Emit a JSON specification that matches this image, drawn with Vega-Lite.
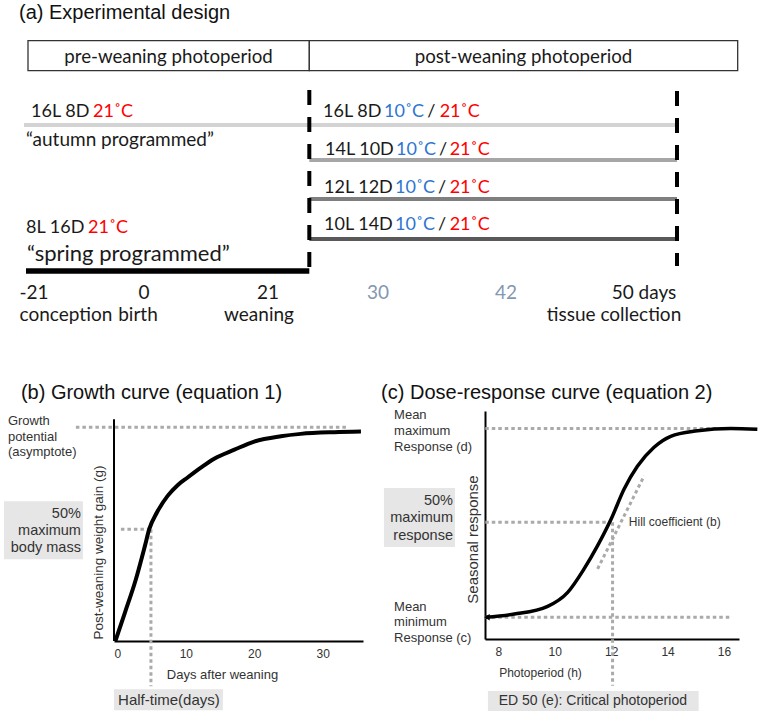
{
"$schema": "https://vega.github.io/schema/vega-lite/v6.json",
"padding": {"left": 3, "top": 3, "right": 2, "bottom": 2},
"bounds": "flush",
"spacing": 71,
"config": {
 "view": {"stroke": null},
 "axis": {"grid": false, "ticks": false, "domainColor": "#000000", "domainWidth": 2, "labelFont": "Liberation Sans", "titleFont": "Liberation Sans", "labelColor": "#333333", "titleColor": "#333333", "titleFontWeight": "normal"},
 "text": {"font": "Liberation Sans"}
},
"datasets": {
 "a_sections": [
  {"section": "pre-weaning photoperiod", "x": -13.76, "x2": 31.25, "y": 0.2, "y2": 10.2, "cx": 8.72, "cy": 5.6},
  {"section": "post-weaning photoperiod", "x": 31.25, "x2": 99.79, "y": 0.2, "y2": 10.2, "cx": 65.52, "cy": 5.6}
 ],
 "a_lines": [
  {"schedule": "16L 8D", "phase": "pre-weaning", "x": -14.4, "x2": 31.25, "y": 28.33},
  {"schedule": "16L 8D", "phase": "post-weaning", "x": 31.25, "x2": 90.08, "y": 28.33},
  {"schedule": "14L 10D", "phase": "post-weaning", "x": 31.25, "x2": 90.08, "y": 40},
  {"schedule": "12L 12D", "phase": "post-weaning", "x": 31.25, "x2": 90.08, "y": 53},
  {"schedule": "10L 14D", "phase": "post-weaning", "x": 31.25, "x2": 90.08, "y": 66.33},
  {"schedule": "8L 16D", "phase": "pre-weaning", "x": -14.08, "x2": 31.25, "y": 77}
 ],
 "a_bounds": [
  {"event": "weaning", "x": 31.25, "y": 16.67, "y2": 78},
  {"event": "tissue collection", "x": 90.08, "y": 17, "y2": 75.33}
 ],
 "a_labels": [
  {"role": "title", "text": "(a) Experimental design", "tone": "plain", "x": -15.2, "y": -9},
  {"role": "schedule", "text": "16L 8D", "tone": "plain", "x": -13.28, "y": 23.9},
  {"role": "schedule", "text": "21˚C", "tone": "warm", "x": -3.36, "y": 23.9},
  {"role": "schedule", "text": "8L 16D", "tone": "plain", "x": -14.08, "y": 62.7},
  {"role": "schedule", "text": "21˚C", "tone": "warm", "x": -4.16, "y": 62.7},
  {"role": "schedule", "text": "16L 8D", "tone": "plain", "x": 33.44, "y": 23.9},
  {"role": "schedule", "text": "10˚C", "tone": "cold", "x": 43.2, "y": 23.9},
  {"role": "schedule", "text": "/", "tone": "plain", "x": 50.1, "y": 23.9},
  {"role": "schedule", "text": "21˚C", "tone": "warm", "x": 52.1, "y": 23.9},
  {"role": "schedule", "text": "14L 10D", "tone": "plain", "x": 33.76, "y": 36.7},
  {"role": "schedule", "text": "10˚C", "tone": "cold", "x": 45.12, "y": 36.7},
  {"role": "schedule", "text": "/", "tone": "plain", "x": 52.0, "y": 36.7},
  {"role": "schedule", "text": "21˚C", "tone": "warm", "x": 53.7, "y": 36.7},
  {"role": "schedule", "text": "12L 12D", "tone": "plain", "x": 33.6, "y": 49.4},
  {"role": "schedule", "text": "10˚C", "tone": "cold", "x": 44.96, "y": 49.4},
  {"role": "schedule", "text": "/", "tone": "plain", "x": 51.85, "y": 49.4},
  {"role": "schedule", "text": "21˚C", "tone": "warm", "x": 53.7, "y": 49.4},
  {"role": "schedule", "text": "10L 14D", "tone": "plain", "x": 33.6, "y": 61.8},
  {"role": "schedule", "text": "10˚C", "tone": "cold", "x": 44.96, "y": 61.8},
  {"role": "schedule", "text": "/", "tone": "plain", "x": 51.85, "y": 61.8},
  {"role": "schedule", "text": "21˚C", "tone": "warm", "x": 53.7, "y": 61.8},
  {"role": "autumn", "text": "“autumn programmed”", "tone": "plain", "x": -14.08, "y": 33.3},
  {"role": "spring", "text": "“spring programmed”", "tone": "plain", "x": -13.92, "y": 71.4},
  {"role": "day", "text": "-21", "tone": "plain", "x": -12.8, "y": 84.3},
  {"role": "day", "text": "0", "tone": "plain", "x": 4.8, "y": 84.3},
  {"role": "day", "text": "21", "tone": "plain", "x": 24.64, "y": 84.3},
  {"role": "day", "text": "30", "tone": "muted", "x": 42.24, "y": 84.3},
  {"role": "day", "text": "42", "tone": "muted", "x": 62.72, "y": 84.3},
  {"role": "day", "text": "50  days", "tone": "plain", "x": 84.8, "y": 84.3},
  {"role": "event", "text": "conception", "tone": "plain", "x": -7.68, "y": 91.6},
  {"role": "event", "text": "birth", "tone": "plain", "x": 3.84, "y": 91.6},
  {"role": "event", "text": "weaning", "tone": "plain", "x": 23.2, "y": 91.6},
  {"role": "event", "text": "tissue collection", "tone": "plain", "x": 80, "y": 91.6}
 ],
 "b_curve": [
  {"day": -0.3, "gain": 0},
  {"day": 1.1, "gain": 0.133},
  {"day": 2.7, "gain": 0.289},
  {"day": 4.02, "gain": 0.445},
  {"day": 4.65, "gain": 0.523},
  {"day": 5.77, "gain": 0.601},
  {"day": 7.34, "gain": 0.679},
  {"day": 8.8, "gain": 0.729},
  {"day": 10.26, "gain": 0.765},
  {"day": 12.2, "gain": 0.811},
  {"day": 14.15, "gain": 0.853},
  {"day": 17.1, "gain": 0.895},
  {"day": 20.0, "gain": 0.933},
  {"day": 23.9, "gain": 0.958},
  {"day": 26.8, "gain": 0.969},
  {"day": 31.7, "gain": 0.977},
  {"day": 35.6, "gain": 0.98}
 ],
 "b_guides": [
  {"guide": "growth potential", "day": -6.07, "day2": 33.7, "gain": 1, "gain2": 1},
  {"guide": "50% gain", "day": 0.51, "day2": 4.9, "gain": 0.523, "gain2": 0.523},
  {"guide": "half-time", "day": 4.9, "day2": 4.9, "gain": 0.523, "gain2": -0.212}
 ],
 "b_frame": [{"day": -0.5, "gain": 0, "gain2": 1.037}],
 "b_boxes": [
  {"box": "50% maximum body mass", "day": -16.59, "day2": -5.04, "gain": 0.654, "gain2": 0.382},
  {"box": "Half-time(days)", "day": -0.51, "day2": 15.42, "gain": -0.226, "gain2": -0.324}
 ],
 "b_notes": [
  {"kind": "title", "text": "(b) Growth curve (equation 1)", "day": -14.11, "gain": 1.159},
  {"kind": "side", "text": "Growth", "day": -16.01, "gain": 1.028},
  {"kind": "side", "text": "potential", "day": -16.01, "gain": 0.953},
  {"kind": "side", "text": "(asymptote)", "day": -16.01, "gain": 0.883},
  {"kind": "boxed", "text": "50%", "day": -5.34, "gain": 0.593},
  {"kind": "boxed", "text": "maximum", "day": -5.34, "gain": 0.513},
  {"kind": "boxed", "text": "body mass", "day": -5.34, "gain": 0.434},
  {"kind": "caption", "text": "Half-time(days)", "day": 7.53, "gain": -0.277}
 ],
 "c_curve": [
  {"photoperiod": 7.55, "response": 0},
  {"photoperiod": 8.57, "response": 0.017},
  {"photoperiod": 9.75, "response": 0.058},
  {"photoperiod": 10.46, "response": 0.132},
  {"photoperiod": 11.04, "response": 0.256},
  {"photoperiod": 11.52, "response": 0.379},
  {"photoperiod": 12.0, "response": 0.52},
  {"photoperiod": 12.46, "response": 0.679},
  {"photoperiod": 12.93, "response": 0.799},
  {"photoperiod": 13.52, "response": 0.9},
  {"photoperiod": 14.11, "response": 0.958},
  {"photoperiod": 15.06, "response": 0.987},
  {"photoperiod": 16.24, "response": 1.0},
  {"photoperiod": 17.18, "response": 0.996}
 ],
 "c_start": [{"photoperiod": 7.6, "response": 0}],
 "c_guides": [
  {"guide": "maximum", "photoperiod": 7.54, "photoperiod2": 15.76, "response": 1, "response2": 1},
  {"guide": "minimum", "photoperiod": 7.54, "photoperiod2": 16.24, "response": 0, "response2": 0},
  {"guide": "50% response", "photoperiod": 7.54, "photoperiod2": 11.99, "response": 0.503, "response2": 0.503},
  {"guide": "ED50", "photoperiod": 12.05, "photoperiod2": 12.05, "response": 0.503, "response2": -0.362},
  {"guide": "Hill slope", "photoperiod": 11.52, "photoperiod2": 13.17, "response": 0.256, "response2": 0.749}
 ],
 "c_boxes": [
  {"box": "50% maximum response", "photoperiod": 3.95, "photoperiod2": 6.467, "response": 0.684, "response2": 0.372},
  {"box": "ED 50", "photoperiod": 7.635, "photoperiod2": 15.1, "response": -0.39, "response2": -0.496}
 ],
 "c_notes": [
  {"kind": "title", "text": "(c) Dose-response curve (equation 2)", "photoperiod": 3.848, "response": 1.186},
  {"kind": "side", "text": "Mean", "photoperiod": 4.308, "response": 1.07},
  {"kind": "side", "text": "maximum", "photoperiod": 4.308, "response": 0.986},
  {"kind": "side", "text": "Response (d)", "photoperiod": 4.308, "response": 0.901},
  {"kind": "boxed", "text": "50%", "photoperiod": 6.396, "response": 0.615},
  {"kind": "boxed", "text": "maximum", "photoperiod": 6.396, "response": 0.525},
  {"kind": "boxed", "text": "response", "photoperiod": 6.396, "response": 0.43},
  {"kind": "side", "text": "Mean", "photoperiod": 4.308, "response": 0.054},
  {"kind": "side", "text": "minimum", "photoperiod": 4.308, "response": -0.025},
  {"kind": "side", "text": "Response (c)", "photoperiod": 4.308, "response": -0.109},
  {"kind": "inline", "text": "Hill coefficient (b)", "photoperiod": 12.627, "response": 0.504},
  {"kind": "caption", "text": "ED 50 (e): Critical photoperiod", "photoperiod": 11.35, "response": -0.443}
 ]
},
"vconcat": [
 {
  "width": 625,
  "height": 300,
  "resolve": {"scale": {"color": "independent"}},
  "encoding": {
   "x": {"field": "x", "type": "quantitative", "scale": {"domain": [0, 100], "nice": false}, "axis": null},
   "y": {"field": "y", "type": "quantitative", "scale": {"domain": [0, 100], "nice": false, "reverse": true}, "axis": null}
  },
  "layer": [
   {
    "data": {"name": "a_sections"},
    "mark": {"type": "rect", "fill": "#ffffff", "stroke": "#333333", "strokeWidth": 1.3},
    "encoding": {"x2": {"field": "x2"}, "y2": {"field": "y2"}}
   },
   {
    "data": {"name": "a_sections"},
    "mark": {"type": "text", "font": "Lato", "fontSize": 18.7, "color": "#1a1a1a", "align": "center", "baseline": "middle"},
    "encoding": {
     "x": {"field": "cx", "type": "quantitative", "scale": {"domain": [0, 100], "nice": false}, "axis": null},
     "y": {"field": "cy", "type": "quantitative", "scale": {"domain": [0, 100], "nice": false, "reverse": true}, "axis": null},
     "text": {"field": "section"}
    }
   },
   {
    "data": {"name": "a_lines"},
    "transform": [{"filter": "datum.schedule !== '8L 16D'"}],
    "mark": {"type": "rule", "strokeWidth": 4, "strokeCap": "butt"},
    "encoding": {
     "x2": {"field": "x2"},
     "color": {"field": "schedule", "type": "nominal", "scale": {"domain": ["16L 8D", "14L 10D", "12L 12D", "10L 14D"], "range": ["#d3d3d3", "#a6a6a6", "#7f7f7f", "#595959"]}, "legend": null}
    }
   },
   {
    "data": {"name": "a_lines"},
    "transform": [{"filter": "datum.schedule === '8L 16D'"}],
    "mark": {"type": "rule", "strokeWidth": 5.5, "strokeCap": "butt", "color": "#000000"},
    "encoding": {"x2": {"field": "x2"}}
   },
   {
    "data": {"name": "a_bounds"},
    "mark": {"type": "rule", "strokeWidth": 4, "strokeDash": [15, 12], "strokeCap": "butt", "color": "#000000"},
    "encoding": {"y2": {"field": "y2"}}
   },
   {
    "data": {"name": "a_labels"},
    "transform": [{"filter": "datum.role === 'schedule'"}],
    "mark": {"type": "text", "font": "Lato", "fontSize": 18, "align": "left", "baseline": "middle"},
    "encoding": {
     "text": {"field": "text"},
     "color": {"field": "tone", "type": "nominal", "scale": {"domain": ["plain", "cold", "warm", "muted"], "range": ["#1a1a1a", "#2e75d2", "#ff0000", "#8497b0"]}, "legend": null}
    }
   },
   {
    "data": {"name": "a_labels"},
    "transform": [{"filter": "datum.role === 'autumn'"}],
    "mark": {"type": "text", "font": "Lato", "fontSize": 19, "align": "left", "baseline": "middle", "color": "#1a1a1a"},
    "encoding": {"text": {"field": "text"}}
   },
   {
    "data": {"name": "a_labels"},
    "transform": [{"filter": "datum.role === 'spring'"}],
    "mark": {"type": "text", "font": "Lato", "fontSize": 22, "align": "left", "baseline": "middle", "color": "#1a1a1a"},
    "encoding": {"text": {"field": "text"}}
   },
   {
    "data": {"name": "a_labels"},
    "transform": [{"filter": "datum.role === 'day' || datum.role === 'event'"}],
    "mark": {"type": "text", "font": "Lato", "fontSize": 19, "align": "center", "baseline": "middle"},
    "encoding": {
     "text": {"field": "text"},
     "color": {"field": "tone", "type": "nominal", "scale": {"domain": ["plain", "muted"], "range": ["#1a1a1a", "#8497b0"]}, "legend": null}
    }
   },
   {
    "data": {"name": "a_labels"},
    "transform": [{"filter": "datum.role === 'title'"}],
    "mark": {"type": "text", "font": "Liberation Sans", "fontSize": 20, "align": "left", "baseline": "middle", "color": "#111111"},
    "encoding": {"text": {"field": "text"}}
   }
  ]
 },
 {
  "bounds": "flush",
  "spacing": 122,
  "hconcat": [
   {
    "width": 249,
    "height": 230,
    "encoding": {
     "x": {"field": "day", "type": "quantitative", "scale": {"domain": [-0.5, 35.9], "nice": false, "zero": false},
           "axis": {"title": "Days after weaning", "values": [0, 10, 20, 30], "labelFontSize": 12, "labelPadding": 7, "titleFontSize": 13, "titleX": 108, "titleY": 33, "titleBaseline": "middle"}},
     "y": {"field": "gain", "type": "quantitative", "scale": {"domain": [0, 1.076], "nice": false, "zero": false},
           "axis": {"title": "Post-weaning weight gain (g)", "labels": false, "domain": false, "titleFontSize": 13.5, "titleX": -15.5, "titleY": 141, "titleBaseline": "middle"}}
    },
    "layer": [
     {
      "data": {"name": "b_boxes"},
      "mark": {"type": "rect", "fill": "#e6e6e6"},
      "encoding": {"x2": {"field": "day2"}, "y2": {"field": "gain2"}}
     },
     {
      "data": {"name": "b_guides"},
      "mark": {"type": "rule", "color": "#aaaaaa", "strokeWidth": 3, "strokeDash": [3.5, 3], "strokeCap": "butt"},
      "encoding": {"x2": {"field": "day2"}, "y2": {"field": "gain2"}}
     },
     {
      "data": {"name": "b_frame"},
      "mark": {"type": "rule", "color": "#000000", "strokeWidth": 2},
      "encoding": {"y2": {"field": "gain2"}}
     },
     {
      "data": {"name": "b_curve"},
      "mark": {"type": "line", "color": "#000000", "strokeWidth": 4, "interpolate": "monotone"}
     },
     {
      "data": {"name": "b_notes"},
      "transform": [{"filter": "datum.kind === 'side'"}],
      "mark": {"type": "text", "fontSize": 13, "align": "left", "baseline": "middle", "color": "#333333"},
      "encoding": {"text": {"field": "text"}}
     },
     {
      "data": {"name": "b_notes"},
      "transform": [{"filter": "datum.kind === 'boxed'"}],
      "mark": {"type": "text", "fontSize": 14.5, "align": "right", "baseline": "middle", "color": "#333333"},
      "encoding": {"text": {"field": "text"}}
     },
     {
      "data": {"name": "b_notes"},
      "transform": [{"filter": "datum.kind === 'caption'"}],
      "mark": {"type": "text", "fontSize": 15, "align": "center", "baseline": "middle", "color": "#333333"},
      "encoding": {"text": {"field": "text"}}
     },
     {
      "data": {"name": "b_notes"},
      "transform": [{"filter": "datum.kind === 'title'"}],
      "mark": {"type": "text", "fontSize": 20, "align": "left", "baseline": "middle", "color": "#111111"},
      "encoding": {"text": {"field": "text"}}
     }
    ]
   },
   {
    "width": 254,
    "height": 228,
    "encoding": {
     "x": {"field": "photoperiod", "type": "quantitative", "scale": {"domain": [7.53, 16.53], "nice": false, "zero": false},
           "axis": {"title": "Photoperiod (h)", "values": [8, 10, 12, 14, 16], "labelFontSize": 12, "labelPadding": 7, "titleFontSize": 12, "titleX": 55, "titleY": 33, "titleBaseline": "middle"}},
     "y": {"field": "response", "type": "quantitative", "scale": {"domain": [-0.115, 1.092], "nice": false, "zero": false},
           "axis": {"title": "Seasonal response", "labels": false, "titleFontSize": 15, "titleX": -13, "titleY": 128, "titleBaseline": "middle"}}
    },
    "layer": [
     {
      "data": {"name": "c_boxes"},
      "mark": {"type": "rect", "fill": "#e6e6e6"},
      "encoding": {"x2": {"field": "photoperiod2"}, "y2": {"field": "response2"}}
     },
     {
      "data": {"name": "c_guides"},
      "mark": {"type": "rule", "color": "#aaaaaa", "strokeWidth": 3, "strokeDash": [3.5, 3], "strokeCap": "butt"},
      "encoding": {"x2": {"field": "photoperiod2"}, "y2": {"field": "response2"}}
     },
     {
      "data": {"name": "c_curve"},
      "mark": {"type": "line", "color": "#000000", "strokeWidth": 3.5, "interpolate": "monotone"}
     },
     {
      "data": {"name": "c_start"},
      "mark": {"type": "point", "shape": "triangle-left", "filled": true, "color": "#000000", "size": 40, "opacity": 1}
     },
     {
      "data": {"name": "c_notes"},
      "transform": [{"filter": "datum.kind === 'side'"}],
      "mark": {"type": "text", "fontSize": 13, "align": "left", "baseline": "middle", "color": "#333333"},
      "encoding": {"text": {"field": "text"}}
     },
     {
      "data": {"name": "c_notes"},
      "transform": [{"filter": "datum.kind === 'boxed'"}],
      "mark": {"type": "text", "fontSize": 14.5, "align": "right", "baseline": "middle", "color": "#333333"},
      "encoding": {"text": {"field": "text"}}
     },
     {
      "data": {"name": "c_notes"},
      "transform": [{"filter": "datum.kind === 'inline'"}],
      "mark": {"type": "text", "fontSize": 12, "align": "left", "baseline": "middle", "color": "#333333"},
      "encoding": {"text": {"field": "text"}}
     },
     {
      "data": {"name": "c_notes"},
      "transform": [{"filter": "datum.kind === 'caption'"}],
      "mark": {"type": "text", "fontSize": 14, "align": "center", "baseline": "middle", "color": "#333333"},
      "encoding": {"text": {"field": "text"}}
     },
     {
      "data": {"name": "c_notes"},
      "transform": [{"filter": "datum.kind === 'title'"}],
      "mark": {"type": "text", "fontSize": 20, "align": "left", "baseline": "middle", "color": "#111111"},
      "encoding": {"text": {"field": "text"}}
     }
    ]
   }
  ]
 }
]
}
